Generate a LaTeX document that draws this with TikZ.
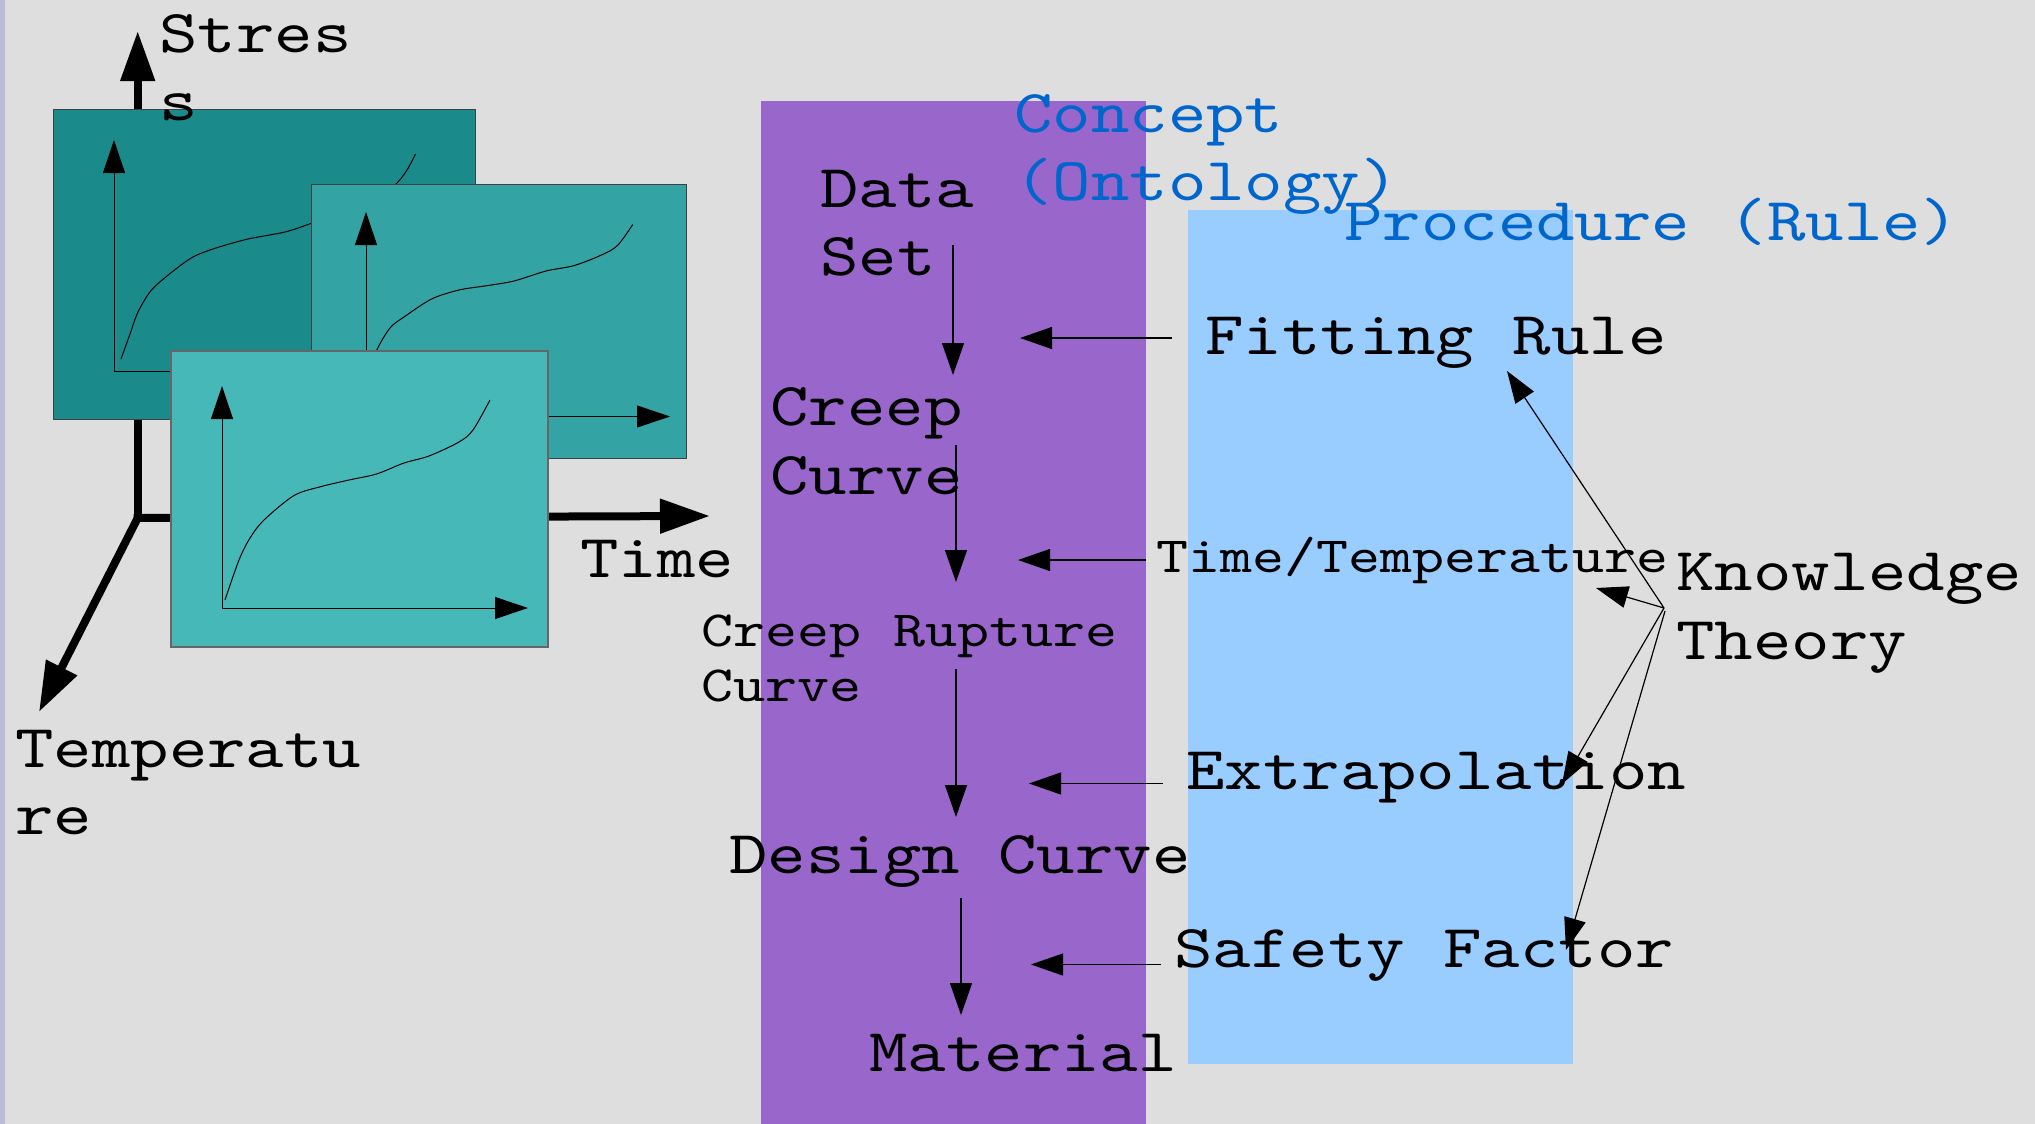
\documentclass[tikz,border=0pt]{standalone}
\usepackage{fontspec}
\usetikzlibrary{arrows.meta}
\newfontfamily\monofont[FakeStretch=1.2]{lmmono10-regular.otf}
\definecolor{bgc}{HTML}{DEDEDE}
\definecolor{stripc}{HTML}{B8BCD8}
\definecolor{panelA}{HTML}{1A8A8A}
\definecolor{panelB}{HTML}{33A3A3}
\definecolor{panelC}{HTML}{47B8B8}
\definecolor{conceptc}{HTML}{9966CC}
\definecolor{procc}{HTML}{99CCFF}
\definecolor{titlec}{HTML}{0066CC}
\begin{document}
\begin{tikzpicture}[x=0.5pt,y=-0.5pt,
  big/.style={font=\monofont\fontsize{30.5pt}{33pt}\selectfont, inner sep=0pt, anchor=base west},
  small/.style={font=\monofont\fontsize{25.4pt}{28pt}\selectfont, inner sep=0pt, anchor=base west},
  titletext/.style={big, text=titlec},
  flow/.style={line width=0.6pt, -{Triangle[length=16pt,width=11pt]}},
  axisthick/.style={line width=4pt, line cap=rect, -{Triangle[length=25pt,width=16.5pt]}},
  paxis/.style={line width=0.5pt, -{Triangle[length=16.5pt,width=11pt]}},
  panel/.style={draw=black!75, line width=0.5pt},
  creepline/.style={line width=0.5pt}
]
\useasboundingbox (0,0) rectangle (2035,1124);
\fill[bgc] (0,0) rectangle (2035,1124);
\fill[stripc] (0,0) rectangle (5,1124);

% 3D axes
\coordinate (O) at (137.7,518);
\coordinate (stressTip) at (137.7,31);
\coordinate (timeTip) at (710,516);
\coordinate (tempTip) at (39,712);
\draw[axisthick] (O) -- (stressTip);
\draw[axisthick] (O) -- (timeTip);
\draw[axisthick] (O) -- (tempTip);

% back panel
\fill[panelA] (53,109) rectangle (475,419);
\draw[panel] (53,109) rectangle (475,419);
\coordinate (bC) at (114,371);
\draw[paxis] (bC) -- (114,140);
\draw[line width=0.5pt] (bC) -- (400,371);
\draw[creepline] plot[smooth] coordinates {(121,359) (130,334) (138,312) (151.5,290) (172,272) (193,257) (216,248) (248,239) (285,232) (312,223) (345,210) (375,199) (396,184) (407,170) (415.5,154)};

% middle panel
\fill[panelB] (311,184) rectangle (686,458);
\draw[panel] (311,184) rectangle (686,458);
\coordinate (mC) at (366,416.5);
\draw[paxis] (mC) -- (366,212);
\draw[paxis] (mC) -- (670,416.5);
\draw[creepline] plot[smooth] coordinates {(370,405) (372,375) (376.5,351) (390,328) (404,317) (431.6,299) (459,290) (486.7,285.7) (514,281) (546,271) (574,265.6) (601.5,255) (617.5,245.5) (632.7,224.6)};

% front panel
\fill[panelC] (171,351) rectangle (548,647);
\draw[draw=black!60, line width=0.6pt] (171,351) rectangle (548,647);
\coordinate (fC) at (222,608);
\draw[paxis] (fC) -- (222,386);
\draw[paxis] (fC) -- (528,608);
\draw[creepline] plot[smooth] coordinates {(225,600) (239,560) (250,538) (264,520) (294,495.5) (321,486.6) (349,480) (376.5,474) (404,463) (429,456) (459,442) (473,430) (490,400)};

% axis labels
\node[big] (stress1) at (159,52) {Stres};
\node[big] (stress2) at (159,120) {s};
\node[big] (timelab) at (580,577) {Time};
\node[big] (temp1) at (15,767) {Temperatu};
\node[big] (temp2) at (15,834) {re};

% columns
\fill[conceptc] (761,101) rectangle (1146,1124);
\fill[procc] (1188,210) rectangle (1573,1064);

\node[titletext] (concept1) at (1014,132) {Concept};
\node[titletext] (concept2) at (1014,200) {(Ontology)};
\node[titletext] (proc) at (1344,240) {Procedure (Rule)};

% concept texts
\node[big] (data1) at (820,207) {Data};
\node[big] (data2) at (820,275) {Set};
\node[big] (creep1) at (770,425) {Creep};
\node[big] (creep2) at (770,494) {Curve};
\node[small] (rupt1) at (701,646) {Creep Rupture};
\node[small] (rupt2) at (701,701) {Curve};
\node[big] (design) at (729,873) {Design Curve};
\node[big] (material) at (869,1071) {Material};

% procedure texts
\node[big] (fitting) at (1205,354) {Fitting Rule};
\node[small] (timetemp) at (1156,572) {Time/Temperature};
\node[big] (extrap) at (1186,789) {Extrapolation};
\node[big] (safety) at (1174,967) {Safety Factor};
\node[big] (know1) at (1676,590) {Knowledge};
\node[big] (know2) at (1676,659) {Theory};

% vertical flow arrows
\coordinate (a1s) at (953,245);   \coordinate (a1e) at (953,375);
\coordinate (a2s) at (956,445);   \coordinate (a2e) at (956,582);
\coordinate (a3s) at (956,669);   \coordinate (a3e) at (956,817);
\coordinate (a4s) at (961,898);   \coordinate (a4e) at (961,1015);
\draw[flow] (a1s) -- (a1e);
\draw[flow] (a2s) -- (a2e);
\draw[flow] (a3s) -- (a3e);
\draw[flow] (a4s) -- (a4e);

% horizontal arrows from procedures
\coordinate (h1s) at (1172,338);   \coordinate (h1e) at (1020,338);
\coordinate (h2s) at (1146,560);   \coordinate (h2e) at (1018,560);
\coordinate (h3s) at (1163,783.5); \coordinate (h3e) at (1029,783.5);
\coordinate (h4s) at (1161,964.5); \coordinate (h4e) at (1031,964.5);
\draw[flow] (h1s) -- (h1e);
\draw[flow] (h2s) -- (h2e);
\draw[flow] (h3s) -- (h3e);
\draw[flow] (h4s) -- (h4e);

% knowledge arrows
\coordinate (K) at (1664,608);
\coordinate (k1) at (1507,371);
\coordinate (k2) at (1596,588);
\coordinate (k3) at (1562,784);
\coordinate (k4) at (1566,950);
\draw[flow] (K) -- (k1);
\draw[flow] (K) -- (k2);
\draw[flow] (K) -- (k3);
\draw[flow] (1665,611) -- (k4);
\end{tikzpicture}
\end{document}
